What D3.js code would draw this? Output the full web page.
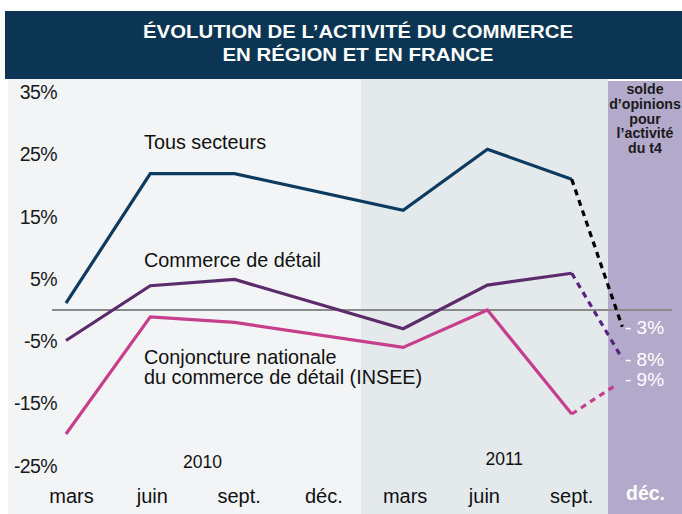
<!DOCTYPE html>
<html><head><meta charset="utf-8">
<script src="https://cdn.jsdelivr.net/npm/d3@7"></script>
<style>body{margin:0;background:#fff}svg{display:block}</style>
</head><body>
<svg id="c" width="682" height="514"></svg>
<script>
// ---- data ----
const months = ["mars","juin","sept.","déc.","mars","juin","sept.","déc."];
const years = ["2010","2011"];
const yTicks = [35,25,15,5,-5,-15,-25];
// observed quarters (index into months); déc. 2010 not reported
const obsIdx = [0,1,2,4,5,6];
const tousSecteurs = [1.1, 21.9, 21.9, 16.0, 25.8, 21.0];
const commerceDetail = [-4.9, 3.9, 4.9, -3.0, 4.0, 5.9];
const conjoncture = [-19.9, -1.1, -2.0, -6.0, 0.0, -16.7];
// forecast (solde d'opinions pour l'activité du t4)
const forecastTous = -2.7, forecastCommerce = -7.8, forecastConj = -12.0;
const forecastLabels = ["- 3%","- 8%","- 9%"];
const panelText = ["solde","d’opinions","pour","l’activité","du t4"];
const seriesNames = ["Tous secteurs","Commerce de détail","Conjoncture nationale","du commerce de détail (INSEE)"];
const titleLines = ["ÉVOLUTION DE L’ACTIVITÉ DU COMMERCE","EN RÉGION ET EN FRANCE"];

const svg = d3.select("#c");
const font = "Liberation Sans, Arial, sans-serif";
const x = d3.scaleLinear().domain([0,7]).range([66,656]);
const y = d3.scaleLinear().domain([0,35]).range([310,92]);
const forecastX = 6.6;

// backgrounds
svg.append("rect").attr("x",8).attr("y",79).attr("width",x(3.5)-8).attr("height",435).attr("fill","#f2f4f6");
svg.append("rect").attr("x",x(3.5)).attr("y",79).attr("width",608-x(3.5)).attr("height",435).attr("fill","#e4e9ec");
svg.append("rect").attr("x",608).attr("y",81).attr("width",74).attr("height",433).attr("fill","#b3a9ca");

// title
svg.append("rect").attr("x",5).attr("y",11).attr("width",677).attr("height",68).attr("fill","#0b3553");
const tw = [430, 271];
svg.selectAll(".tt").data(titleLines).join("text").attr("class","tt")
  .attr("x",358).attr("y",(d,i)=>38+i*23).attr("text-anchor","middle")
  .attr("fill","#fff").attr("font-family",font).attr("font-weight","bold").attr("font-size",18.5)
  .attr("textLength",(d,i)=>tw[i]).attr("lengthAdjust","spacingAndGlyphs").text(d=>d);

// y labels
svg.selectAll(".yl").data(yTicks).join("text").attr("class","yl")
  .attr("x",57).attr("y",d=>y(d)).attr("dy","0.36em").attr("text-anchor","end")
  .attr("font-family",font).attr("font-size",19.5).attr("fill","#1a1a1a").attr("letter-spacing",-0.6)
  .text(d=>d+"%");

// zero line
svg.append("line").attr("x1",52).attr("x2",672).attr("y1",y(0)).attr("y2",y(0))
  .attr("stroke","#8a8a8a").attr("stroke-width",2);

// panel text
svg.selectAll(".pt").data(panelText).join("text").attr("class","pt")
  .attr("x",645).attr("y",(d,i)=>94+i*14.8).attr("text-anchor","middle")
  .attr("font-family",font).attr("font-weight","bold").attr("font-size",14.2).attr("fill","#1a1a1a")
  .text(d=>d);

// lines
const line = d3.line().x(d=>x(d[0])).y(d=>y(d[1]));
function series(vals, color, fIdx, fVal, fColor){
  const pts = obsIdx.map((k,i)=>[k,vals[i]]);
  svg.append("path").attr("d",line(pts)).attr("fill","none").attr("stroke",color)
    .attr("stroke-width",3.2).attr("stroke-linejoin","miter");
  svg.append("path").attr("d",line([pts[pts.length-1],[fIdx,fVal]])).attr("fill","none")
    .attr("stroke",fColor).attr("stroke-width",3.2).attr("stroke-dasharray","6,5");
}
series(tousSecteurs,"#0d3a5f",forecastX,forecastTous,"#000");
series(commerceDetail,"#5b2b6c",forecastX,forecastCommerce,"#56237d");
series(conjoncture,"#c73f8c",forecastX-0.07,forecastConj,"#c73f8c");

// forecast labels
const flY = [y(forecastTous)+7, y(forecastCommerce)+7, y(forecastConj)+1];
svg.selectAll(".fl").data(forecastLabels).join("text").attr("class","fl")
  .attr("x",625).attr("y",(d,i)=>flY[i])
  .attr("font-family",font).attr("font-size",19).attr("fill","#fff").text(d=>d);

// series labels
const labY = [142,260,357,377];
svg.selectAll(".sl").data(seriesNames).join("text").attr("class","sl")
  .attr("x",144).attr("y",(d,i)=>labY[i]).attr("dy","0.35em")
  .attr("font-family",font).attr("font-size",19.8).attr("fill","#111").text(d=>d);

// years
const yrX = [1.62,5.2], yrY=[468,465];
svg.selectAll(".yr").data(years).join("text").attr("class","yr")
  .attr("x",(d,i)=>x(yrX[i])).attr("y",(d,i)=>yrY[i]).attr("text-anchor","middle")
  .attr("font-family",font).attr("font-size",17.5).attr("fill","#111").text(d=>d);

// month labels
const nudge = [5.5,2,4.5,5,2,-3,0,-10.5];
svg.selectAll(".mo").data(months).join("text").attr("class","mo")
  .attr("x",(d,i)=>x(i)+nudge[i]).attr("y",(d,i)=>i===7?500:503).attr("text-anchor","middle")
  .attr("font-family",font).attr("font-size",(d,i)=>i===7?19.5:20)
  .attr("font-weight",(d,i)=>i===7?"bold":"normal")
  .attr("fill",(d,i)=>i===7?"#fff":"#111").text(d=>d);
</script>
</body></html>
